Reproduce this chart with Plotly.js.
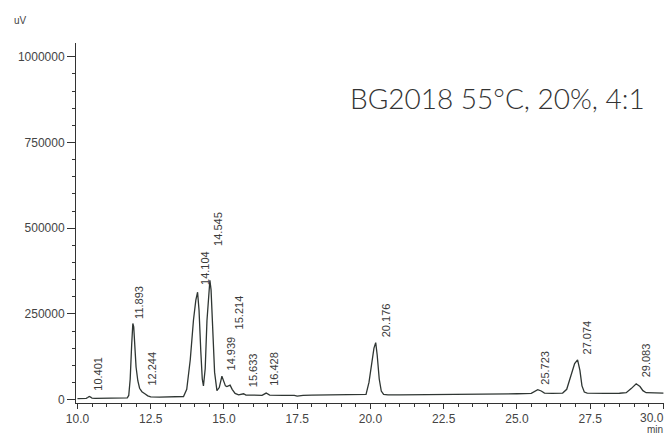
<!DOCTYPE html>
<html>
<head>
<meta charset="utf-8">
<script src="https://cdn.plot.ly/plotly-3.0.1.min.js"></script>
<style>
html,body{margin:0;padding:0;background:#fff;}
#chart{width:667px;height:436px;}
</style>
</head>
<body>
<div id="chart"></div>
<script>
// Chromatogram trace: retention time (min) and signal (uV)
var times = [
  10.0, 10.3, 10.35, 10.4, 10.45, 10.5, 10.6, 11.0, 11.5, 11.7,
  11.75, 11.8, 11.85, 11.89, 11.92, 11.96, 12.0, 12.06, 12.12, 12.2,
  12.25, 12.3, 12.4, 12.5, 12.8, 13.2, 13.5, 13.62, 13.73, 13.85,
  13.96, 14.04, 14.1, 14.15, 14.21, 14.26, 14.3, 14.36, 14.42, 14.48,
  14.52, 14.56, 14.62, 14.68, 14.76, 14.84, 14.93, 14.99, 15.05, 15.1,
  15.15, 15.21, 15.28, 15.38, 15.5, 15.6, 15.67, 15.75, 16.0, 16.3,
  16.44, 16.56, 17.0, 17.4, 17.5, 17.6, 17.7, 18.0, 18.5, 19.0,
  19.5, 19.85, 19.95, 20.05, 20.12, 20.18, 20.23, 20.3, 20.37, 20.45,
  20.6, 21.0, 22.0, 23.0, 24.0, 25.0, 25.49, 25.6, 25.71, 25.83,
  25.94, 26.2, 26.56, 26.7, 26.85, 26.97, 27.07, 27.15, 27.22, 27.3,
  27.4, 27.6, 28.0, 28.5, 28.73, 28.9, 29.07, 29.2, 29.3, 29.41,
  29.6, 30.0
];
var signal = [
  3000, 3500, 6000, 9000, 7000, 4000, 3500, 4000, 4500, 5000,
  12000, 60000, 160000, 222000, 212000, 150000, 95000, 55000, 33000, 23000,
  21000, 17000, 11000, 8000, 7000, 7000, 7500, 9000, 30000, 116000,
  232000, 290000, 313000, 260000, 140000, 60000, 40000, 90000, 230000, 325000,
  348000, 320000, 190000, 80000, 26000, 35000, 68000, 55000, 40000, 38000,
  40000, 42000, 30000, 18000, 14000, 15000, 17000, 13000, 12000, 12500,
  19000, 13000, 12500, 12500, 10000, 12000, 12500, 13000, 13000, 13000,
  13500, 15000, 50000, 110000, 150000, 166000, 130000, 60000, 25000, 15000,
  13500, 13500, 14000, 15000, 16000, 17000, 18000, 24000, 29000, 25000,
  19000, 18000, 19000, 30000, 70000, 105000, 116000, 85000, 40000, 22000,
  19000, 18000, 18000, 18500, 20000, 32000, 46000, 38000, 26000, 20000,
  19000, 19000
];

// Peak labels (retention times) and apex signals
var peakTimes = [10.401, 11.893, 12.244, 14.104, 14.545, 14.939, 15.214, 15.633, 16.428, 20.176, 25.723, 27.074, 29.083];
var peakLabels = ["10.401", "11.893", "12.244", "14.104", "14.545", "14.939", "15.214", "15.633", "16.428", "20.176", "25.723", "27.074", "29.083"];
var peakApex = [9000, 222000, 21000, 313000, 348000, 68000, 42000, 17000, 19000, 166000, 29000, 116000, 46000];

// Label offsets (pixels) – style only
var labelDx = [9, 6, 9, 8, 8, 9, 9, 10, 8, 10, 7, 9, 9];
var labelDy = [4, 3, 5, 5, 32, 4, 54, 4, 5, 3, 3, 3, 4];

var yTicks = [0, 250000, 500000, 750000, 1000000];
var yTickText = ["0", "250000", "500000", "750000", "1000000"];
var xTicks = [10.0, 12.5, 15.0, 17.5, 20.0, 22.5, 25.0, 27.5, 30.0];
var xTickText = ["10.0", "12.5", "15.0", "17.5", "20.0", "22.5", "25.0", "27.5", "30.0"];

var titleText = "BG2018 55°C, 20%, 4:1";

var FONT = 'Liberation Sans, Arial, sans-serif';

var trace = {
  x: times, y: signal, type: 'scatter', mode: 'lines',
  line: {color: '#2f3633', width: 1.3},
  hoverinfo: 'x+y'
};

var annotations = peakTimes.map(function (t, i) {
  return {
    x: t, y: peakApex[i], xref: 'x', yref: 'y',
    text: peakLabels[i], showarrow: false, textangle: -90,
    xanchor: 'center', yanchor: 'bottom',
    xshift: labelDx[i], yshift: labelDy[i],
    font: {family: FONT, size: 11, color: '#3a3a3a'}
  };
});

// last x tick label is drawn shifted left so that it stays inside the page
var lastIdx = xTicks.length - 1;
var shownTickText = xTickText.slice(0, lastIdx).concat([""]);
annotations.push({
  x: xTicks[lastIdx], xref: 'x', yref: 'paper', y: 0,
  xanchor: 'right', yanchor: 'top', yshift: -6, xshift: 3, showarrow: false,
  text: xTickText[lastIdx], font: {family: FONT, size: 12, color: '#444'}
});

annotations.push({
  xref: 'paper', yref: 'paper', x: 0.4626, y: 0.846,
  xanchor: 'left', yanchor: 'middle', showarrow: false,
  text: titleText,
  font: {family: 'Lato, Open Sans, sans-serif', size: 28, weight: 300, color: '#333'}
});
annotations.push({
  xref: 'paper', yref: 'paper', x: -0.0952, y: 1.062,
  xanchor: 'center', yanchor: 'middle', showarrow: false,
  text: 'uV', font: {family: FONT, size: 10, color: '#444'}
});
annotations.push({
  xref: 'paper', yref: 'paper', x: 0.9847, y: -0.074,
  xanchor: 'center', yanchor: 'middle', showarrow: false,
  text: 'min', font: {family: FONT, size: 10, color: '#444'}
});

var layout = {
  width: 667, height: 436,
  margin: {l: 76, r: 3, t: 43, b: 33, pad: 0},
  paper_bgcolor: '#fff', plot_bgcolor: '#fff',
  showlegend: false,
  xaxis: {
    range: [9.95, 30.02], showgrid: false, zeroline: false,
    showline: true, linecolor: '#333', linewidth: 1,
    tickmode: 'array', tickvals: xTicks, ticktext: shownTickText,
    ticks: 'outside', ticklen: 5, tickcolor: '#333', tickwidth: 1,
    minor: {dtick: 0.5, tick0: 10, ticks: 'outside', ticklen: 3, tickcolor: '#333', tickwidth: 1, showgrid: false},
    tickfont: {family: FONT, size: 12, color: '#444'}
  },
  yaxis: {
    range: [-10000, 1040000], showgrid: false, zeroline: false,
    showline: true, linecolor: '#333', linewidth: 1,
    tickmode: 'array', tickvals: yTicks, ticktext: yTickText,
    ticks: 'outside', ticklen: 8, tickcolor: '#333', tickwidth: 1,
    minor: {dtick: 50000, tick0: 0, ticks: 'outside', ticklen: 3, tickcolor: '#333', tickwidth: 1, showgrid: false},
    tickfont: {family: FONT, size: 12, color: '#444'}
  },
  annotations: annotations
};

Plotly.newPlot('chart', [trace], layout, {displayModeBar: false, staticPlot: true});
</script>
</body>
</html>
